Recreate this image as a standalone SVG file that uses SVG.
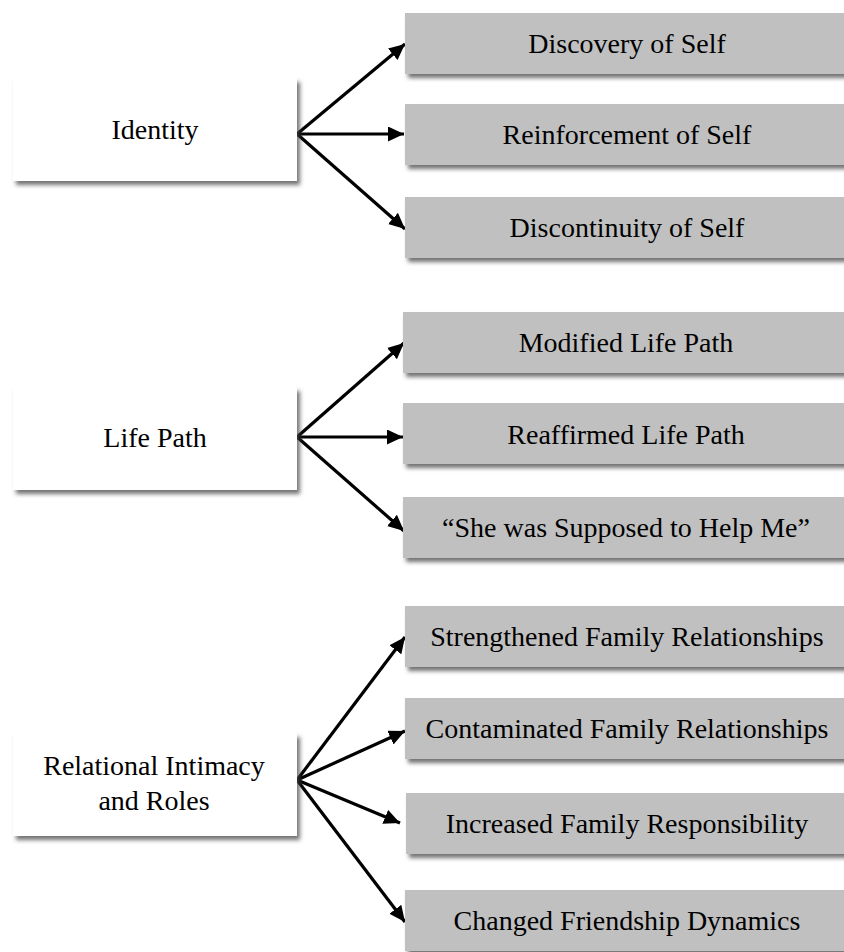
<svg xmlns="http://www.w3.org/2000/svg" width="844" height="952" viewBox="0 0 844 952">
<style>
  .lbl { font-family: "Liberation Serif", "Times New Roman", serif; font-size: 28px; fill: #000; text-anchor: middle; }
  .main { fill: #ffffff; filter: url(#sh); }
  .sub { fill: #c0c0c0; filter: url(#sh); }
  .conn line { stroke: #000; stroke-width: 3.2; marker-end: url(#ah); }
</style>
<defs>
  <filter id="sh" x="-10%" y="-20%" width="130%" height="160%">
    <feDropShadow dx="3" dy="4" stdDeviation="2" flood-color="#444" flood-opacity="0.75"/>
  </filter>
  <marker id="ah" markerUnits="userSpaceOnUse" markerWidth="18" markerHeight="16" refX="16" refY="7.5" orient="auto">
    <path d="M0,0 L16,7.5 L0,15 z" fill="#000"/>
  </marker>
</defs>
<rect width="844" height="952" fill="#fff"/>

<g class="conn" id="connectors">
  <line x1="297" y1="134" x2="405" y2="44"/>
  <line x1="297" y1="134" x2="404" y2="134"/>
  <line x1="297" y1="134" x2="405" y2="229"/>
  <line x1="297" y1="437" x2="404" y2="343"/>
  <line x1="297" y1="437" x2="403" y2="437"/>
  <line x1="297" y1="437" x2="404" y2="531"/>
  <line x1="297" y1="780" x2="405" y2="637"/>
  <line x1="297" y1="780" x2="405" y2="731"/>
  <line x1="297" y1="780" x2="400" y2="823"/>
  <line x1="297" y1="780" x2="405" y2="922"/>
</g>

<g id="identity">
  <rect class="main" x="13" y="78" width="284" height="103"/>
  <text class="lbl" x="155" y="139">Identity</text>
</g>
<g id="discovery">
  <rect class="sub" x="405" y="13" width="446" height="61"/>
  <text class="lbl" x="627" y="53">Discovery of Self</text>
</g>
<g id="reinforcement">
  <rect class="sub" x="405" y="104" width="446" height="61"/>
  <text class="lbl" x="627" y="144">Reinforcement of Self</text>
</g>
<g id="discontinuity">
  <rect class="sub" x="405" y="197" width="446" height="61"/>
  <text class="lbl" x="627" y="237">Discontinuity of Self</text>
</g>

<g id="lifepath">
  <rect class="main" x="13" y="387" width="284" height="103"/>
  <text class="lbl" x="155" y="447">Life Path</text>
</g>
<g id="modified">
  <rect class="sub" x="403" y="312" width="448" height="61"/>
  <text class="lbl" x="626" y="352">Modified Life Path</text>
</g>
<g id="reaffirmed">
  <rect class="sub" x="403" y="403" width="448" height="61"/>
  <text class="lbl" x="626" y="444">Reaffirmed Life Path</text>
</g>
<g id="supposed">
  <rect class="sub" x="403" y="497" width="448" height="61"/>
  <text class="lbl" x="626" y="537">“She was Supposed to Help Me”</text>
</g>

<g id="relational">
  <rect class="main" x="13" y="733" width="284" height="103"/>
  <text class="lbl" x="154" y="775">Relational Intimacy</text>
  <text class="lbl" x="154" y="810">and Roles</text>
</g>
<g id="strengthened">
  <rect class="sub" x="405" y="606" width="446" height="61"/>
  <text class="lbl" x="627" y="646">Strengthened Family Relationships</text>
</g>
<g id="contaminated">
  <rect class="sub" x="405" y="698" width="446" height="61"/>
  <text class="lbl" x="627" y="738">Contaminated Family Relationships</text>
</g>
<g id="increased">
  <rect class="sub" x="406" y="793" width="445" height="61"/>
  <text class="lbl" x="627" y="833">Increased Family Responsibility</text>
</g>
<g id="changed">
  <rect class="sub" x="405" y="890" width="446" height="61"/>
  <text class="lbl" x="627" y="930">Changed Friendship Dynamics</text>
</g>
</svg>
